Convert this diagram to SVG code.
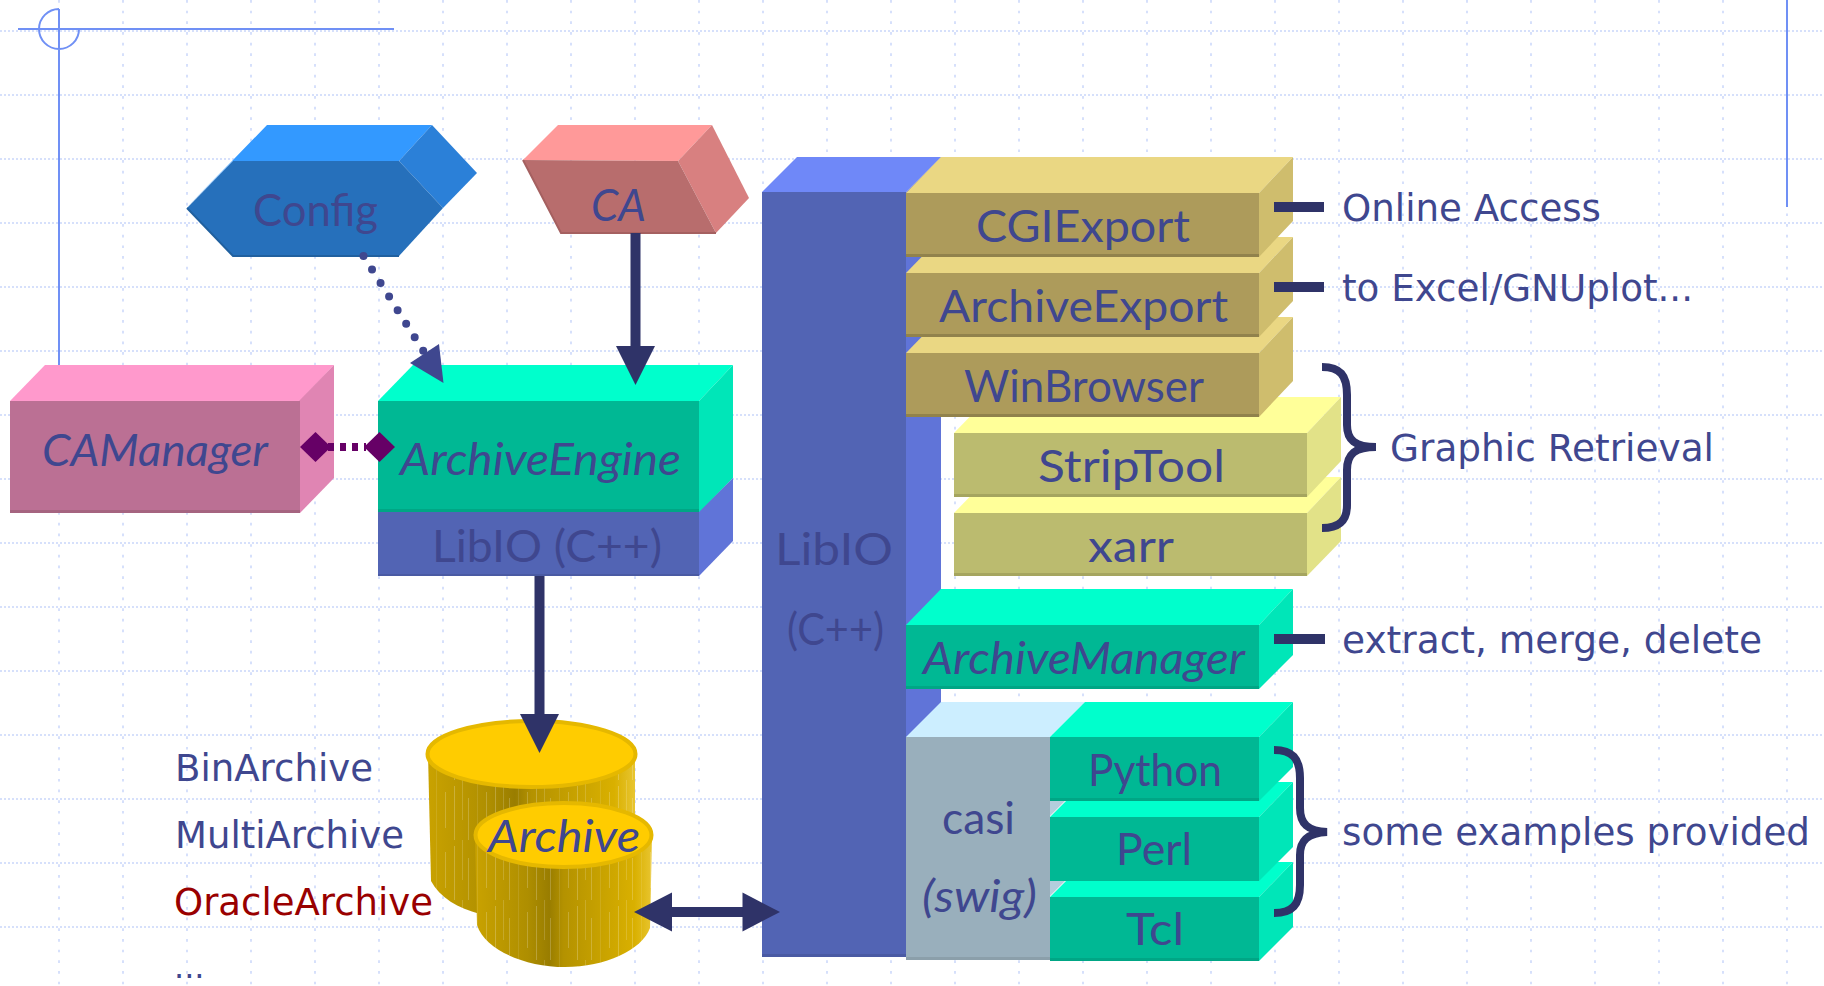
<svg xmlns="http://www.w3.org/2000/svg" width="1824" height="986" viewBox="0 0 1824 986">
<style>
text{font-family:"Lato","Noto Sans",sans-serif;fill:#3f478f;font-size:45px}
.i{font-style:italic}
.d{font-family:"DejaVu Sans",Verdana,sans-serif;font-size:36.5px}
.g1{fill:none;stroke:#d6e0fb;stroke-width:2;stroke-dasharray:2 2}
.g2{fill:none;stroke:#d6e0fb;stroke-width:2;stroke-dasharray:2.7 7.97}
.t1{fill:#ead783}.s1{fill:#cfbd6d}.f1{fill:#ad9b5b}.e1{fill:#91824c}
.t2{fill:#ffff99}.s2{fill:#e2e288}.f2{fill:#bbbb6f}.e2{fill:#a5a55f}
.t3{fill:#00ffcc}.s3{fill:#00e6b8}.f3{fill:#00b894}.e3{fill:#00a685}
.t4{fill:#6f88f8}.s4{fill:#6074d8}.f4{fill:#5264b4}.e4{fill:#4a5aa3}
.deco{fill:none;stroke:#7090f5;stroke-width:2}
.ln{fill:none;stroke:#2f3368;stroke-width:10}
.br{fill:none;stroke:#2f3368;stroke-width:8}
.hd{fill:#2f3368}
.cyt{fill:#ffcc00;stroke:#e5b800;stroke-width:4}
</style>
<defs>
<linearGradient id="cyl" x1="0" y1="0" x2="1" y2="0">
<stop offset="0" stop-color="#c9a200"/><stop offset="0.3" stop-color="#ae8e00"/><stop offset="0.42" stop-color="#997d00"/><stop offset="0.5" stop-color="#b49200"/><stop offset="0.9" stop-color="#d9b000"/><stop offset="1" stop-color="#e8c530"/>
</linearGradient>
<pattern id="st" width="41" height="60" patternUnits="userSpaceOnUse">
<rect x="3" y="6" width="1" height="54" fill="#fff" opacity=".22"/>
<rect x="11" width="1" height="40" fill="#fff" opacity=".16"/>
<rect x="17" y="18" width="1" height="42" fill="#fff" opacity=".2"/>
<rect x="26" width="1" height="60" fill="#fff" opacity=".1"/>
<rect x="35" y="12" width="1" height="36" fill="#fff" opacity=".2"/>
</pattern>
</defs>
<rect width="1824" height="986" fill="#fff"/>
<g id="grid">
<path class="g1" d="M0 31H1824M0 95H1824M0 159H1824M0 223H1824M0 287H1824M0 351H1824M0 415H1824M0 479H1824M0 543H1824M0 607H1824M0 671H1824M0 735H1824M0 799H1824M0 863H1824M0 927H1824"/>
<path class="g2" d="M59 0V986M123 0V986M187 0V986M251 0V986M315 0V986M379 0V986M443 0V986M507 0V986M571 0V986M635 0V986M699 0V986M763 0V986M827 0V986M891 0V986M955 0V986M1019 0V986M1083 0V986M1147 0V986M1211 0V986M1275 0V986M1339 0V986M1403 0V986M1467 0V986M1531 0V986M1595 0V986M1659 0V986M1723 0V986M1787 0V986"/>
</g>
<g id="deco">
<path class="deco" d="M18 29H394M59 9V365M59 9A20 20 0 1 0 79 29M1787 0V207"/>
</g>
<g id="CAManager">
<polygon fill="#ff99cc" points="10,401 45,365 334,365 300,401"/>
<polygon fill="#e085b3" points="299,401 334,365 334,478 300,513"/>
<rect fill="#bb7094" x="10" y="401" width="290" height="112"/>
<rect fill="#a56480" x="10" y="510" width="290" height="3"/>
<text class="i" x="42" y="466" textLength="226" lengthAdjust="spacingAndGlyphs">CAManager</text>
</g>
<g id="Config">
<polygon fill="#3399ff" points="187,207 233,160 267,125 432,125 399,161 233,161"/>
<polygon fill="#2b80d8" points="399,161 432,125 477,173 443,208"/>
<polygon fill="#2670bb" points="187,208 233,161 399,161 443,208 399,256 233,256"/>
<path d="M187 208L233 256H399" fill="none" stroke="#20609f" stroke-width="2"/>
<text x="253" y="226" textLength="125" lengthAdjust="spacingAndGlyphs">Config</text>
</g>
<g id="CA">
<polygon fill="#ff9999" points="523,160 558,125 712,125 678,161"/>
<polygon fill="#d88080" points="678,161 712,125 749,198 716,233"/>
<polygon fill="#b86d6d" points="523,160 678,161 716,233 561,233"/>
<path d="M523 160L561 233H716" fill="none" stroke="#a56060" stroke-width="2"/>
<text class="i" x="591" y="221" textLength="55" lengthAdjust="spacingAndGlyphs">CA</text>
</g>
<g id="ArchiveEngine">
<polygon class="t3" points="378,401 413,365 733,365 699,401"/>
<polygon class="s3" points="699,401 733,365 733,478 699,513"/>
<rect class="f3" x="378" y="401" width="321" height="111"/>
<rect class="e3" x="378" y="509" width="321" height="3"/>
<text class="i" x="400" y="475" textLength="281" lengthAdjust="spacingAndGlyphs">ArchiveEngine</text>
</g>
<g id="LibIO-small">
<polygon class="s4" points="699,512 733,478 733,541 699,576"/>
<rect class="f4" x="378" y="512" width="321" height="64"/>
<rect class="e4" x="378" y="574" width="321" height="2"/>
<text x="432" y="562" textLength="230" lengthAdjust="spacingAndGlyphs">LibIO (C++)</text>
</g>
<g id="LibIO-big">
<polygon class="t4" points="762,192 797,157 941,157 906,192"/>
<polygon class="s4" points="906,192 941,157 941,704 906,740"/>
<rect class="f4" x="762" y="192" width="144" height="765"/>
<rect class="e4" x="762" y="954" width="144" height="3"/>
<text x="775" y="565" textLength="118" lengthAdjust="spacingAndGlyphs">LibIO</text>
<text x="787" y="645" textLength="97" lengthAdjust="spacingAndGlyphs">(C++)</text>
</g>
<g id="xarr">
<polygon class="t2" points="954,513 989,477 1341,477 1307,513"/>
<polygon class="s2" points="1307,513 1341,477 1341,541 1307,576"/>
<rect class="f2" x="954" y="513" width="353" height="63"/>
<rect class="e2" x="954" y="573" width="353" height="3"/>
<text x="1088" y="562" textLength="86" lengthAdjust="spacingAndGlyphs">xarr</text>
</g>
<g id="StripTool">
<polygon class="t2" points="954,433 989,397 1341,397 1307,433"/>
<polygon class="s2" points="1307,433 1341,397 1341,461 1307,497"/>
<rect class="f2" x="954" y="433" width="353" height="64"/>
<rect class="e2" x="954" y="494" width="353" height="3"/>
<text x="1038" y="482" textLength="187" lengthAdjust="spacingAndGlyphs">StripTool</text>
</g>
<g id="WinBrowser">
<polygon class="t1" points="906,353 941,317 1293,317 1259,353"/>
<polygon class="s1" points="1259,353 1293,317 1293,381 1259,417"/>
<rect class="f1" x="906" y="353" width="353" height="64"/>
<rect class="e1" x="906" y="414" width="353" height="3"/>
<text x="964" y="402" textLength="240" lengthAdjust="spacingAndGlyphs">WinBrowser</text>
</g>
<g id="ArchiveExport">
<polygon class="t1" points="906,273 941,237 1293,237 1259,273"/>
<polygon class="s1" points="1259,273 1293,237 1293,301 1259,337"/>
<rect class="f1" x="906" y="273" width="353" height="64"/>
<rect class="e1" x="906" y="334" width="353" height="3"/>
<text x="939" y="322" textLength="289" lengthAdjust="spacingAndGlyphs">ArchiveExport</text>
</g>
<g id="CGIExport">
<polygon class="t1" points="906,193 941,157 1293,157 1259,193"/>
<polygon class="s1" points="1259,193 1293,157 1293,221 1259,257"/>
<rect class="f1" x="906" y="193" width="353" height="64"/>
<rect class="e1" x="906" y="254" width="353" height="3"/>
<text x="976" y="242" textLength="214" lengthAdjust="spacingAndGlyphs">CGIExport</text>
</g>
<g id="ArchiveManager">
<polygon class="t3" points="906,625 941,589 1293,589 1259,625"/>
<polygon class="s3" points="1259,625 1293,589 1293,655 1259,689"/>
<rect class="f3" x="906" y="625" width="353" height="64"/>
<rect class="e3" x="906" y="686" width="353" height="3"/>
<text class="i" x="923" y="674" textLength="322" lengthAdjust="spacingAndGlyphs">ArchiveManager</text>
</g>
<g id="casi">
<polygon fill="#cceeff" points="906,737 941,702 1085,702 1050,737"/>
<rect fill="#99afbc" x="906" y="737" width="144" height="223"/>
<rect fill="#8b9faa" x="906" y="957" width="144" height="3"/>
<polygon fill="#b3cedd" points="1050,800 1066,800 1050,816"/>
<polygon fill="#b3cedd" points="1050,880 1066,880 1050,896"/>
<text x="942" y="834" textLength="73" lengthAdjust="spacingAndGlyphs">casi</text>
<text class="i" x="922" y="912" textLength="115" lengthAdjust="spacingAndGlyphs">(swig)</text>
</g>
<g id="Tcl">
<polygon class="t3" points="1050,897 1085,862 1293,862 1259,897"/>
<polygon class="s3" points="1259,897 1293,862 1293,927 1259,961"/>
<rect class="f3" x="1050" y="897" width="209" height="64"/>
<rect class="e3" x="1050" y="958" width="209" height="3"/>
<text x="1126" y="945" textLength="58" lengthAdjust="spacingAndGlyphs">Tcl</text>
</g>
<g id="Perl">
<polygon class="t3" points="1050,817 1085,782 1293,782 1259,817"/>
<polygon class="s3" points="1259,817 1293,782 1293,847 1259,881"/>
<rect class="f3" x="1050" y="817" width="209" height="64"/>
<text x="1116" y="865" textLength="76" lengthAdjust="spacingAndGlyphs">Perl</text>
</g>
<g id="Python">
<polygon class="t3" points="1050,737 1085,702 1293,702 1259,737"/>
<polygon class="s3" points="1259,737 1293,702 1293,767 1259,801"/>
<rect class="f3" x="1050" y="737" width="209" height="64"/>
<rect class="e3" x="1050" y="798" width="209" height="3"/>
<text x="1088" y="786" textLength="134" lengthAdjust="spacingAndGlyphs">Python</text>
</g>
<g id="Archive">
<path fill="url(#cyl)" d="M428 754L431 881C440 898 458 908 480 914H635V754Z"/>
<path fill="url(#st)" d="M428 754L431 881C440 898 458 908 480 914H635V754Z"/>
<ellipse class="cyt" cx="531.5" cy="754" rx="104" ry="33"/>
<path fill="url(#cyl)" d="M475 835L477 925C485 950 525 967 565 967C605 967 642 950 650 928L652 835Z"/>
<path fill="url(#st)" d="M475 835L477 925C485 950 525 967 565 967C605 967 642 950 650 928L652 835Z"/>
<ellipse class="cyt" cx="563.5" cy="835" rx="88" ry="32"/>
<text class="i" x="488" y="852" textLength="152" lengthAdjust="spacingAndGlyphs">Archive</text>
</g>
<g id="connectors">
<path d="M363.500 256L424 352" fill="none" stroke="#3f478f" stroke-width="8" stroke-linecap="round" stroke-dasharray="0 16"/>
<polygon fill="#3f478f" points="443.500,383 439,344 410,363"/>
<path class="ln" d="M635.500 233V350"/>
<polygon class="hd" points="616,346 655,346 635.500,385"/>
<path class="ln" d="M539.500 576V718"/>
<polygon class="hd" points="520,714 559,714 539.500,753"/>
<path class="ln" d="M668 912H746"/>
<polygon class="hd" points="634,912 672,892.500 672,931.500"/>
<polygon class="hd" points="780,912 742.500,892.500 742.500,931.500"/>
<path d="M328 447H366" fill="none" stroke="#660066" stroke-width="8" stroke-dasharray="6 6"/>
<polygon fill="#660066" points="300,447 315.500,432 331,447 315.500,462"/>
<polygon fill="#660066" points="364,447 379.500,432 395,447 379.500,462"/>
<path class="ln" d="M1274 207H1324"/>
<path class="ln" d="M1274 287H1324"/>
<path class="ln" d="M1274 639H1325"/>
<path class="br" d="M1322 367C1340 367 1347 375 1347 395V425C1347 440 1355 447 1376 447C1355 447 1347 454 1347 470V505C1347 520 1340 528 1322 528"/>
<path class="br" d="M1274 750C1292 750 1300 758 1300 778V808C1300 824 1308 831 1327 832C1308 833 1300 840 1300 855V885C1300 905 1292 913 1274 913"/>
</g>
<g id="labels">
<text class="d" x="1342" y="221" textLength="259" lengthAdjust="spacingAndGlyphs">Online Access</text>
<text class="d" x="1342" y="301" textLength="351" lengthAdjust="spacingAndGlyphs">to Excel/GNUplot...</text>
<text class="d" x="1390" y="461" textLength="324" lengthAdjust="spacingAndGlyphs">Graphic Retrieval</text>
<text class="d" x="1342" y="653" textLength="420" lengthAdjust="spacingAndGlyphs">extract, merge, delete</text>
<text class="d" x="1342" y="845" textLength="468" lengthAdjust="spacingAndGlyphs">some examples provided</text>
<text class="d" x="175" y="781" textLength="198" lengthAdjust="spacingAndGlyphs">BinArchive</text>
<text class="d" x="175" y="848" textLength="229" lengthAdjust="spacingAndGlyphs">MultiArchive</text>
<text class="d" x="174" y="915" textLength="259" lengthAdjust="spacingAndGlyphs" style="fill:#990000">OracleArchive</text>
<text class="d" x="174" y="978" style="font-size:32px">...</text>
</g>
</svg>
